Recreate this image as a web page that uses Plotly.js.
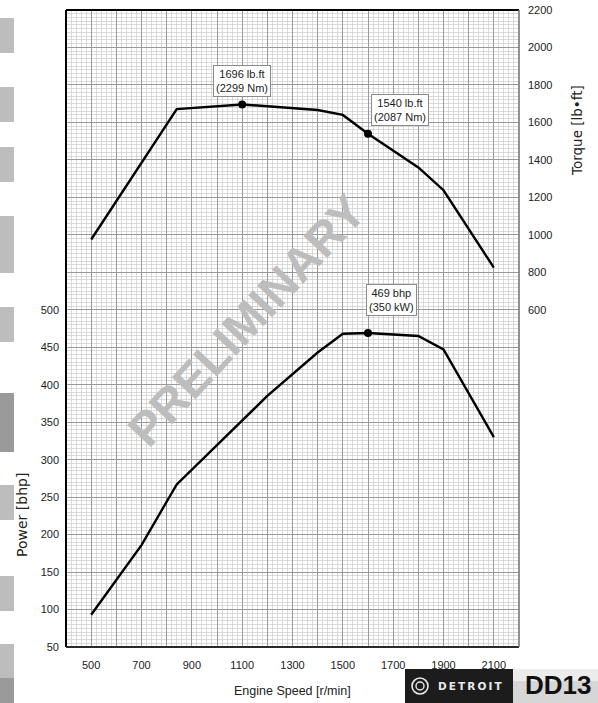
<!DOCTYPE html>
<html>
<head>
<meta charset="utf-8">
<script src="https://cdn.plot.ly/plotly-3.0.1.min.js"></script>
<style>
  html, body { margin: 0; padding: 0; background: #ffffff; }
  #chart { width: 598px; height: 703px; }
</style>
</head>
<body>
<div id="chart"></div>
<script>
// ---------------- data ----------------
const torqueRpm   = [500, 840, 1100, 1400, 1500, 1600, 1800, 1900, 2100];
const torqueLbft  = [975, 1671, 1696, 1666, 1640, 1540, 1360, 1238, 825];
const powerRpm    = [500, 700, 840, 1000, 1200, 1400, 1500, 1600, 1800, 1900, 2100];
const powerBhp    = [93, 186, 267, 320, 385, 443, 468, 469, 465, 447, 330];

const torquePointRpm = [1100, 1600];
const torquePointVal = [1696, 1540];
const torquePointLabels = ["1696 lb.ft<br>(2299 Nm)", "1540 lb.ft<br>(2087 Nm)"];
const powerPointRpm = [1600];
const powerPointVal = [469];
const powerPointLabels = ["469 bhp<br>(350 kW)"];

const xTickLabels = [500, 700, 900, 1100, 1300, 1500, 1700, 1900, 2100];
const powerTickLabels = [50, 100, 150, 200, 250, 300, 350, 400, 450, 500];
const torqueTickLabels = [600, 800, 1000, 1200, 1400, 1600, 1800, 2000, 2200];

const xTitle = "Engine Speed [r/min]";
const powerTitle = "Power [bhp]";
const torqueTitle = "Torque [lb\u2022ft]";
const watermark = "PRELIMINARY";
const brandText = "DETROIT";
const modelText = "DD13";

// ---------------- layout helpers ----------------
const W = 598, H = 703, L = 66, R = 519, T = 10, B = 647;
const px = v => (v - L) / (R - L);
const py = v => (B - v) / (B - T);
const SANS = '"Liberation Sans", Arial, Helvetica, sans-serif';
const TXT = '#222222';

// grid tick positions (major grid every 100 rpm / 50 bhp)
const xGrid = []; for (let v = 400; v <= 2200; v += 100) xGrid.push(v);
const yGrid = []; for (let v = 50; v <= 900; v += 50) yGrid.push(v);

const traces = [
  { x: powerRpm, y: powerBhp, type: 'scatter', mode: 'lines', yaxis: 'y',
    line: { color: '#000', width: 2.4 }, hoverinfo: 'skip' },
  { x: torqueRpm, y: torqueLbft, type: 'scatter', mode: 'lines', yaxis: 'y2',
    line: { color: '#000', width: 2.4 }, hoverinfo: 'skip' },
  { x: torquePointRpm, y: torquePointVal, type: 'scatter', mode: 'markers', yaxis: 'y2',
    marker: { color: '#000', size: 8 }, hoverinfo: 'skip' },
  { x: powerPointRpm, y: powerPointVal, type: 'scatter', mode: 'markers', yaxis: 'y',
    marker: { color: '#000', size: 8 }, hoverinfo: 'skip' }
];

const boxStyle = {
  showarrow: false, bgcolor: '#ffffff', bordercolor: '#8a8a8a', borderwidth: 1, borderpad: 2,
  font: { family: SANS, size: 11, color: TXT }, align: 'center', yanchor: 'bottom', xanchor: 'center'
};
const torqueShift = [[0, 7], [32, 8]];
const powerShift = [[23, 17]];

const annotations = [];
torquePointLabels.forEach((t, i) => annotations.push(Object.assign({}, boxStyle, {
  text: t, x: torquePointRpm[i], y: torquePointVal[i], xref: 'x', yref: 'y2',
  xshift: torqueShift[i][0], yshift: torqueShift[i][1]
})));
powerPointLabels.forEach((t, i) => annotations.push(Object.assign({}, boxStyle, {
  text: t, x: powerPointRpm[i], y: powerPointVal[i], xref: 'x', yref: 'y',
  xshift: powerShift[i][0], yshift: powerShift[i][1]
})));

const free = (o) => Object.assign({ xref: 'paper', yref: 'paper', showarrow: false,
  xanchor: 'center', yanchor: 'middle' }, o);
annotations.push(
  free({ text: watermark, x: px(246), y: py(320), textangle: -47,
    font: { family: SANS, size: 47, color: '#bdbdbd', weight: 'bold' } }),
  free({ text: xTitle, x: px(292), y: py(691),
    font: { family: SANS, size: 12.5, color: TXT } }),
  free({ text: powerTitle, x: px(22), y: py(515), textangle: -90,
    font: { family: '"DejaVu Sans", sans-serif', size: 14, color: TXT } }),
  free({ text: torqueTitle, x: px(577), y: py(131), textangle: -90,
    font: { family: '"DejaVu Sans", sans-serif', size: 13.5, color: TXT } }),
  free({ text: brandText.split('').join('\u2009'), x: px(470), y: py(686),
    font: { family: '"DejaVu Sans", sans-serif', size: 10.5, color: '#e8e8e8', weight: 'bold' } }),
  free({ text: modelText, x: px(558), y: py(685),
    font: { family: SANS, size: 26, color: '#111', weight: 'bold' } })
);

const shapes = [];
// left edge gray tabs
const tabs = [[18,53,'#bdbdbd'],[87,122,'#bdbdbd'],[147,182,'#bdbdbd'],[216,273,'#bdbdbd'],
              [307,342,'#bdbdbd'],[393,452,'#9a9a9a'],[485,520,'#bdbdbd'],[576,611,'#bdbdbd'],
              [644,678,'#bdbdbd'],[678,703,'#9a9a9a']];
tabs.forEach(t => shapes.push({ type: 'rect', xref: 'paper', yref: 'paper',
  x0: px(0), x1: px(14), y0: py(t[0]), y1: py(t[1]), fillcolor: t[2], line: { width: 0 }, layer: 'above' }));
// plot frame
shapes.push(
  { type: 'line', xref: 'paper', yref: 'paper', x0: 0, x1: 1, y0: 1, y1: 1, line: { color: '#000', width: 2.2 }, layer: 'above' },
  { type: 'line', xref: 'paper', yref: 'paper', x0: 0, x1: 0, y0: 0, y1: 1, line: { color: '#000', width: 2 }, layer: 'above' },
  { type: 'line', xref: 'paper', yref: 'paper', x0: 0, x1: 1, y0: 0, y1: 0, line: { color: '#2a2a2a', width: 2 }, layer: 'above' },
  { type: 'line', xref: 'paper', yref: 'paper', x0: 1, x1: 1, y0: 0, y1: 1, line: { color: '#777', width: 1.6 }, layer: 'above' }
);
// logo
shapes.push(
  { type: 'rect', xref: 'paper', yref: 'paper', x0: px(405), x1: px(513), y0: py(669), y1: py(703),
    fillcolor: '#1c1c1c', line: { width: 0 }, layer: 'above' },
  { type: 'rect', xref: 'paper', yref: 'paper', x0: px(513), x1: px(598), y0: py(669), y1: py(703),
    fillcolor: '#d6d6d6', line: { width: 0 }, layer: 'above' },
  { type: 'rect', xref: 'paper', yref: 'paper', x0: px(513), x1: px(598), y0: py(669), y1: py(681),
    fillcolor: '#ececec', line: { width: 0 }, layer: 'above' },
  { type: 'circle', xref: 'paper', yref: 'paper', x0: px(412), x1: px(428), y0: py(678), y1: py(694),
    fillcolor: 'rgba(0,0,0,0)', line: { color: '#e8e8e8', width: 1.6 }, layer: 'above' },
  { type: 'circle', xref: 'paper', yref: 'paper', x0: px(416), x1: px(424), y0: py(682), y1: py(690),
    fillcolor: 'rgba(0,0,0,0)', line: { color: '#e8e8e8', width: 1.4 }, layer: 'above' }
);

const layout = {
  width: W, height: H,
  margin: { l: L, r: W - R, t: T, b: H - B, pad: 0 },
  paper_bgcolor: '#ffffff', plot_bgcolor: '#ffffff',
  showlegend: false,
  xaxis: {
    range: [400, 2200], tickmode: 'array', tickvals: xGrid,
    ticktext: xGrid.map(v => xTickLabels.includes(v) ? String(v) : ''),
    showgrid: true, gridcolor: '#9a9a9a', gridwidth: 1, zeroline: false, showline: false,
    ticks: '', ticklabelstandoff: 10,
    tickfont: { family: SANS, size: 11, color: TXT },
    minor: { dtick: 20, tick0: 400, showgrid: true, gridcolor: '#cccccc', gridwidth: 0.7, ticks: '' },
    fixedrange: true
  },
  yaxis: {
    range: [50, 900], tickmode: 'array', tickvals: yGrid,
    ticktext: yGrid.map(v => powerTickLabels.includes(v) ? String(v) : ''),
    showgrid: true, gridcolor: '#9a9a9a', gridwidth: 1, zeroline: false, showline: false,
    ticks: '', ticklabelstandoff: 6,
    tickfont: { family: SANS, size: 11, color: TXT },
    minor: { dtick: 5, tick0: 50, showgrid: true, gridcolor: '#cccccc', gridwidth: 0.7, ticks: '' },
    fixedrange: true
  },
  yaxis2: {
    range: [-1200, 2200], overlaying: 'y', side: 'right', tickmode: 'array',
    tickvals: torqueTickLabels, ticktext: torqueTickLabels.map(String),
    showgrid: false, zeroline: false, showline: false, ticks: '', ticklabelstandoff: 8,
    tickfont: { family: SANS, size: 11, color: TXT },
    fixedrange: true
  },
  shapes: shapes,
  annotations: annotations
};

Plotly.newPlot('chart', traces, layout, { staticPlot: true, displayModeBar: false });
</script>
</body>
</html>
